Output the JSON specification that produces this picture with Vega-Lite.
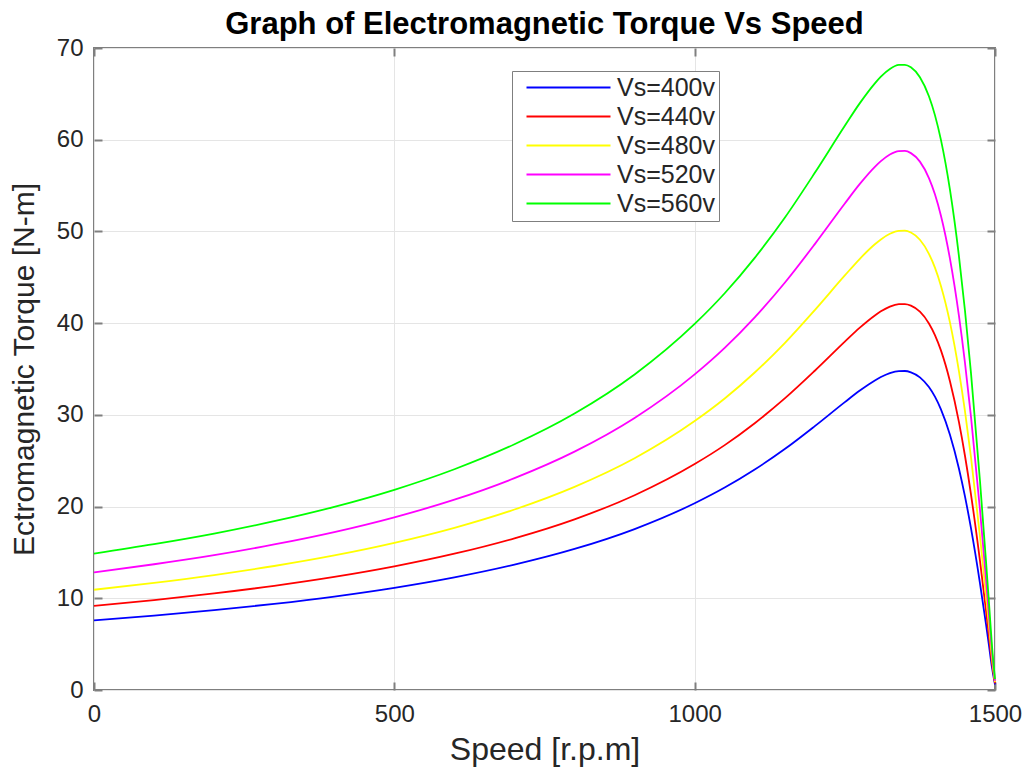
{
  "$schema": "https://vega.github.io/schema/vega-lite/v6.json",
  "autosize": "none",
  "width": 901,
  "height": 642,
  "padding": {"left": 94, "top": 48, "right": 34, "bottom": 77},
  "background": "white",
  "title": {"text": "Graph of Electromagnetic Torque Vs Speed", "font": "Liberation Sans", "fontSize": 31, "fontWeight": "bold", "color": "#000000", "anchor": "middle", "offset": -5},
  "config": {
    "view": {"stroke": "#7f7f7f", "strokeWidth": 2},
    "axis": {"domain": false, "tickColor": "#7f7f7f", "tickWidth": 2, "labelFont": "Liberation Sans", "labelFontSize": 24, "labelColor": "#262626", "labelFlush": false, "titleFont": "Liberation Sans", "titleFontSize": 32, "titleFontWeight": "normal", "titleColor": "#262626", "gridColor": "#e5e5e5", "gridWidth": 1}
  },
  "datasets": {
    "curves": [
      {"speed":0,"torque":7.59,"series":"Vs=400v"},{"speed":100,"torque":8.11,"series":"Vs=400v"},{"speed":200,"torque":8.70,"series":"Vs=400v"},{"speed":300,"torque":9.39,"series":"Vs=400v"},{"speed":400,"torque":10.19,"series":"Vs=400v"},{"speed":500,"torque":11.14,"series":"Vs=400v"},{"speed":600,"torque":12.28,"series":"Vs=400v"},{"speed":700,"torque":13.67,"series":"Vs=400v"},{"speed":800,"torque":15.38,"series":"Vs=400v"},{"speed":900,"torque":17.55,"series":"Vs=400v"},{"speed":1000,"torque":20.36,"series":"Vs=400v"},{"speed":1050,"torque":22.07,"series":"Vs=400v"},{"speed":1100,"torque":24.04,"series":"Vs=400v"},{"speed":1150,"torque":26.27,"series":"Vs=400v"},{"speed":1200,"torque":28.77,"series":"Vs=400v"},{"speed":1250,"torque":31.39,"series":"Vs=400v"},{"speed":1275,"torque":32.65,"series":"Vs=400v"},{"speed":1300,"torque":33.75,"series":"Vs=400v"},{"speed":1310,"torque":34.12,"series":"Vs=400v"},{"speed":1325,"torque":34.55,"series":"Vs=400v"},{"speed":1340,"torque":34.77,"series":"Vs=400v"},{"speed":1350,"torque":34.78,"series":"Vs=400v"},{"speed":1360,"torque":34.64,"series":"Vs=400v"},{"speed":1375,"torque":34.09,"series":"Vs=400v"},{"speed":1390,"torque":33.03,"series":"Vs=400v"},{"speed":1400,"torque":31.98,"series":"Vs=400v"},{"speed":1410,"torque":30.60,"series":"Vs=400v"},{"speed":1425,"torque":27.83,"series":"Vs=400v"},{"speed":1440,"torque":24.13,"series":"Vs=400v"},{"speed":1450,"torque":21.11,"series":"Vs=400v"},{"speed":1460,"torque":17.64,"series":"Vs=400v"},{"speed":1475,"torque":11.63,"series":"Vs=400v"},{"speed":1485,"torque":7.17,"series":"Vs=400v"},{"speed":1490,"torque":4.83,"series":"Vs=400v"},{"speed":1495,"torque":2.44,"series":"Vs=400v"},{"speed":1500,"torque":0.6,"series":"Vs=400v"},
      {"speed":0,"torque":9.18,"series":"Vs=440v"},{"speed":100,"torque":9.81,"series":"Vs=440v"},{"speed":200,"torque":10.53,"series":"Vs=440v"},{"speed":300,"torque":11.36,"series":"Vs=440v"},{"speed":400,"torque":12.33,"series":"Vs=440v"},{"speed":500,"torque":13.48,"series":"Vs=440v"},{"speed":600,"torque":14.86,"series":"Vs=440v"},{"speed":700,"torque":16.54,"series":"Vs=440v"},{"speed":800,"torque":18.61,"series":"Vs=440v"},{"speed":900,"torque":21.24,"series":"Vs=440v"},{"speed":1000,"torque":24.64,"series":"Vs=440v"},{"speed":1050,"torque":26.70,"series":"Vs=440v"},{"speed":1100,"torque":29.09,"series":"Vs=440v"},{"speed":1150,"torque":31.79,"series":"Vs=440v"},{"speed":1200,"torque":34.81,"series":"Vs=440v"},{"speed":1250,"torque":37.98,"series":"Vs=440v"},{"speed":1275,"torque":39.51,"series":"Vs=440v"},{"speed":1300,"torque":40.84,"series":"Vs=440v"},{"speed":1310,"torque":41.29,"series":"Vs=440v"},{"speed":1325,"torque":41.81,"series":"Vs=440v"},{"speed":1340,"torque":42.07,"series":"Vs=440v"},{"speed":1350,"torque":42.08,"series":"Vs=440v"},{"speed":1360,"torque":41.91,"series":"Vs=440v"},{"speed":1375,"torque":41.25,"series":"Vs=440v"},{"speed":1390,"torque":39.97,"series":"Vs=440v"},{"speed":1400,"torque":38.70,"series":"Vs=440v"},{"speed":1410,"torque":37.03,"series":"Vs=440v"},{"speed":1425,"torque":33.67,"series":"Vs=440v"},{"speed":1440,"torque":29.20,"series":"Vs=440v"},{"speed":1450,"torque":25.54,"series":"Vs=440v"},{"speed":1460,"torque":21.34,"series":"Vs=440v"},{"speed":1475,"torque":14.07,"series":"Vs=440v"},{"speed":1485,"torque":8.68,"series":"Vs=440v"},{"speed":1490,"torque":5.84,"series":"Vs=440v"},{"speed":1495,"torque":2.95,"series":"Vs=440v"},{"speed":1500,"torque":0.73,"series":"Vs=440v"},
      {"speed":0,"torque":10.93,"series":"Vs=480v"},{"speed":100,"torque":11.68,"series":"Vs=480v"},{"speed":200,"torque":12.53,"series":"Vs=480v"},{"speed":300,"torque":13.52,"series":"Vs=480v"},{"speed":400,"torque":14.67,"series":"Vs=480v"},{"speed":500,"torque":16.04,"series":"Vs=480v"},{"speed":600,"torque":17.68,"series":"Vs=480v"},{"speed":700,"torque":19.68,"series":"Vs=480v"},{"speed":800,"torque":22.15,"series":"Vs=480v"},{"speed":900,"torque":25.27,"series":"Vs=480v"},{"speed":1000,"torque":29.32,"series":"Vs=480v"},{"speed":1050,"torque":31.78,"series":"Vs=480v"},{"speed":1100,"torque":34.62,"series":"Vs=480v"},{"speed":1150,"torque":37.83,"series":"Vs=480v"},{"speed":1200,"torque":41.43,"series":"Vs=480v"},{"speed":1250,"torque":45.20,"series":"Vs=480v"},{"speed":1275,"torque":47.02,"series":"Vs=480v"},{"speed":1300,"torque":48.60,"series":"Vs=480v"},{"speed":1310,"torque":49.13,"series":"Vs=480v"},{"speed":1325,"torque":49.75,"series":"Vs=480v"},{"speed":1340,"torque":50.07,"series":"Vs=480v"},{"speed":1350,"torque":50.08,"series":"Vs=480v"},{"speed":1360,"torque":49.88,"series":"Vs=480v"},{"speed":1375,"torque":49.09,"series":"Vs=480v"},{"speed":1390,"torque":47.56,"series":"Vs=480v"},{"speed":1400,"torque":46.05,"series":"Vs=480v"},{"speed":1410,"torque":44.06,"series":"Vs=480v"},{"speed":1425,"torque":40.08,"series":"Vs=480v"},{"speed":1440,"torque":34.75,"series":"Vs=480v"},{"speed":1450,"torque":30.40,"series":"Vs=480v"},{"speed":1460,"torque":25.40,"series":"Vs=480v"},{"speed":1475,"torque":16.75,"series":"Vs=480v"},{"speed":1485,"torque":10.32,"series":"Vs=480v"},{"speed":1490,"torque":6.96,"series":"Vs=480v"},{"speed":1495,"torque":3.51,"series":"Vs=480v"},{"speed":1500,"torque":0.86,"series":"Vs=480v"},
      {"speed":0,"torque":12.83,"series":"Vs=520v"},{"speed":100,"torque":13.71,"series":"Vs=520v"},{"speed":200,"torque":14.70,"series":"Vs=520v"},{"speed":300,"torque":15.87,"series":"Vs=520v"},{"speed":400,"torque":17.22,"series":"Vs=520v"},{"speed":500,"torque":18.83,"series":"Vs=520v"},{"speed":600,"torque":20.75,"series":"Vs=520v"},{"speed":700,"torque":23.10,"series":"Vs=520v"},{"speed":800,"torque":25.99,"series":"Vs=520v"},{"speed":900,"torque":29.66,"series":"Vs=520v"},{"speed":1000,"torque":34.41,"series":"Vs=520v"},{"speed":1050,"torque":37.30,"series":"Vs=520v"},{"speed":1100,"torque":40.63,"series":"Vs=520v"},{"speed":1150,"torque":44.40,"series":"Vs=520v"},{"speed":1200,"torque":48.62,"series":"Vs=520v"},{"speed":1250,"torque":53.05,"series":"Vs=520v"},{"speed":1275,"torque":55.18,"series":"Vs=520v"},{"speed":1300,"torque":57.04,"series":"Vs=520v"},{"speed":1310,"torque":57.66,"series":"Vs=520v"},{"speed":1325,"torque":58.39,"series":"Vs=520v"},{"speed":1340,"torque":58.76,"series":"Vs=520v"},{"speed":1350,"torque":58.78,"series":"Vs=520v"},{"speed":1360,"torque":58.54,"series":"Vs=520v"},{"speed":1375,"torque":57.61,"series":"Vs=520v"},{"speed":1390,"torque":55.82,"series":"Vs=520v"},{"speed":1400,"torque":54.05,"series":"Vs=520v"},{"speed":1410,"torque":51.71,"series":"Vs=520v"},{"speed":1425,"torque":47.03,"series":"Vs=520v"},{"speed":1440,"torque":40.78,"series":"Vs=520v"},{"speed":1450,"torque":35.68,"series":"Vs=520v"},{"speed":1460,"torque":29.81,"series":"Vs=520v"},{"speed":1475,"torque":19.65,"series":"Vs=520v"},{"speed":1485,"torque":12.12,"series":"Vs=520v"},{"speed":1490,"torque":8.16,"series":"Vs=520v"},{"speed":1495,"torque":4.12,"series":"Vs=520v"},{"speed":1500,"torque":1.01,"series":"Vs=520v"},
      {"speed":0,"torque":14.88,"series":"Vs=560v"},{"speed":100,"torque":15.90,"series":"Vs=560v"},{"speed":200,"torque":17.05,"series":"Vs=560v"},{"speed":300,"torque":18.40,"series":"Vs=560v"},{"speed":400,"torque":19.97,"series":"Vs=560v"},{"speed":500,"torque":21.83,"series":"Vs=560v"},{"speed":600,"torque":24.07,"series":"Vs=560v"},{"speed":700,"torque":26.79,"series":"Vs=560v"},{"speed":800,"torque":30.14,"series":"Vs=560v"},{"speed":900,"torque":34.40,"series":"Vs=560v"},{"speed":1000,"torque":39.91,"series":"Vs=560v"},{"speed":1050,"torque":43.26,"series":"Vs=560v"},{"speed":1100,"torque":47.12,"series":"Vs=560v"},{"speed":1150,"torque":51.49,"series":"Vs=560v"},{"speed":1200,"torque":56.39,"series":"Vs=560v"},{"speed":1250,"torque":61.52,"series":"Vs=560v"},{"speed":1275,"torque":63.99,"series":"Vs=560v"},{"speed":1300,"torque":66.15,"series":"Vs=560v"},{"speed":1310,"torque":66.88,"series":"Vs=560v"},{"speed":1325,"torque":67.72,"series":"Vs=560v"},{"speed":1340,"torque":68.15,"series":"Vs=560v"},{"speed":1350,"torque":68.17,"series":"Vs=560v"},{"speed":1360,"torque":67.89,"series":"Vs=560v"},{"speed":1375,"torque":66.82,"series":"Vs=560v"},{"speed":1390,"torque":64.74,"series":"Vs=560v"},{"speed":1400,"torque":62.68,"series":"Vs=560v"},{"speed":1410,"torque":59.98,"series":"Vs=560v"},{"speed":1425,"torque":54.55,"series":"Vs=560v"},{"speed":1440,"torque":47.29,"series":"Vs=560v"},{"speed":1450,"torque":41.38,"series":"Vs=560v"},{"speed":1460,"torque":34.57,"series":"Vs=560v"},{"speed":1475,"torque":22.79,"series":"Vs=560v"},{"speed":1485,"torque":14.05,"series":"Vs=560v"},{"speed":1490,"torque":9.47,"series":"Vs=560v"},{"speed":1495,"torque":4.78,"series":"Vs=560v"},{"speed":1500,"torque":1.18,"series":"Vs=560v"}
    ]
  },
  "data": {"name": "curves"},
  "layer": [
    {
      "mark": {"type": "line", "interpolate": "monotone", "strokeWidth": 1.8},
      "encoding": {
        "x": {"field": "speed", "type": "quantitative", "scale": {"domain": [0, 1500], "nice": false, "zero": false},
              "axis": {"title": "Speed [r.p.m]", "values": [0, 500, 1000, 1500], "format": "d", "tickSize": -8, "labelPadding": 20, "titlePadding": 8, "grid": true}},
        "y": {"field": "torque", "type": "quantitative", "scale": {"domain": [0, 70], "nice": false, "zero": false},
              "axis": {"title": "Ectromagnetic Torque [N-m]", "titleFontSize": 30, "values": [0, 10, 20, 30, 40, 50, 60, 70], "format": "d", "tickSize": -8, "labelPadding": 19, "titlePadding": 17, "grid": true}},
        "color": {"field": "series", "type": "nominal",
                  "scale": {"domain": ["Vs=400v", "Vs=440v", "Vs=480v", "Vs=520v", "Vs=560v"], "range": ["#0000ff", "#ff0000", "#ffff00", "#ff00ff", "#00ff00"]},
                  "legend": {"title": " ", "titleOrient": "left", "titleFontSize": 20, "titlePadding": 40, "orient": "none", "legendX": 418, "legendY": 23, "symbolType": "M-4,0L4,0", "symbolSize": 441, "symbolStrokeWidth": 1.8, "labelFont": "Liberation Sans", "labelFontSize": 25, "labelColor": "#262626", "rowPadding": 3, "padding": 4, "strokeColor": "#7f7f7f", "fillColor": "white", "labelOffset": 36}}
      }
    },
    {
      "mark": {"type": "line", "opacity": 0},
      "encoding": {
        "x": {"field": "speed", "type": "quantitative", "scale": {"domain": [0, 1500], "nice": false, "zero": false}, "axis": {"orient": "top", "title": null, "labels": false, "values": [0, 500, 1000, 1500], "tickSize": -8, "grid": false}},
        "y": {"field": "torque", "type": "quantitative", "scale": {"domain": [0, 70], "nice": false, "zero": false}, "axis": {"orient": "right", "title": null, "labels": false, "values": [0, 10, 20, 30, 40, 50, 60, 70], "tickSize": -8, "grid": false}}
      }
    }
  ],
  "resolve": {"axis": {"x": "independent", "y": "independent"}}
}
